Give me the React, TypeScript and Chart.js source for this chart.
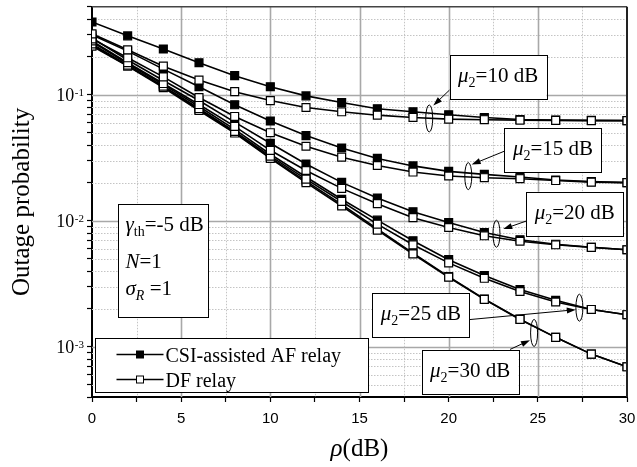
import React, { useEffect, useRef } from 'react';
import { Chart, registerables } from 'chart.js';

Chart.register(...registerables);

const SERIF = '"Liberation Serif", "Times New Roman", Times, serif';
const SANS = '"Liberation Sans", Arial, Helvetica, sans-serif';

// ---------------- data ----------------
const rho = [0, 2, 4, 6, 8, 10, 12, 14, 16, 18, 20, 22, 24, 26, 28, 30];

const af10 = [0.379, 0.294, 0.231, 0.180, 0.142, 0.116, 0.0982, 0.0869, 0.0775, 0.0734, 0.0695, 0.0662, 0.0638, 0.0630, 0.0627, 0.0624];
const df10 = [0.305, 0.228, 0.169, 0.131, 0.106, 0.0901, 0.0794, 0.0734, 0.0690, 0.0662, 0.0642, 0.0635, 0.0630, 0.0627, 0.0625, 0.0624];
const af15 = [0.299, 0.2225, 0.160, 0.116, 0.0834, 0.0621, 0.0475, 0.0379, 0.0313, 0.0273, 0.0247, 0.0234, 0.0223, 0.0211, 0.0205, 0.0201];
const df15 = [0.278, 0.197, 0.139, 0.0952, 0.0674, 0.0501, 0.0391, 0.0320, 0.0275, 0.0244, 0.0227, 0.0220, 0.0216, 0.0209, 0.0203, 0.0201];
const af20 = [0.283, 0.189, 0.130, 0.0902, 0.0608, 0.0413, 0.0283, 0.0202, 0.0152, 0.0118, 0.0097, 0.00808, 0.00708, 0.00652, 0.00618, 0.0059];
const df20 = [0.268, 0.180, 0.123, 0.0838, 0.0562, 0.0363, 0.0251, 0.0181, 0.0137, 0.0106, 0.00886, 0.00761, 0.00689, 0.00646, 0.00616, 0.0059];
const af25 = [0.2635, 0.1767, 0.1206, 0.0808, 0.0532, 0.0338, 0.0223, 0.01483, 0.01013, 0.00695, 0.00492, 0.00368, 0.00285, 0.00234, 0.00198, 0.0018];
const df25 = [0.254, 0.172, 0.1174, 0.0779, 0.0513, 0.0326, 0.02146, 0.01425, 0.00942, 0.00646, 0.00464, 0.0035, 0.00275, 0.00227, 0.00198, 0.0018];
const af30 = [0.249, 0.170, 0.1163, 0.0766, 0.0504, 0.0318, 0.0207, 0.0135, 0.00865, 0.00554, 0.00361, 0.0024, 0.00166, 0.00119, 0.000876, 0.000695];
const df30 = [0.2435, 0.1694, 0.1142, 0.0752, 0.0498, 0.0313, 0.0201, 0.01313, 0.00844, 0.00546, 0.00357, 0.00238, 0.00165, 0.00119, 0.000876, 0.000695];

const muLabels = ['10', '15', '20', '25', '30'];
const afSeries = [af10, af15, af20, af25, af30];
const dfSeries = [df10, df15, df20, df25, df30];

const xMin = 0;
const xMax = 30;
const xTickStep = 2.5;
const xLabelStep = 5;
const yMin = 4e-4;
const yMax = 0.5;
const yDecades = [1e-3, 1e-2, 1e-1];

const legendLabels = ['CSI-assisted AF relay', 'DF relay'];
const xTitle = 'ρ';
const xTitleUnit = '(dB)';
const yTitle = 'Outage probability';

// annotation anchors (data coordinates): box centre, ellipse centre, arrow from / to
const muNotes = [
  { mu: '10', box: [22.77, 0.138], ell: [18.91, 0.065], from: [20.07, 0.110], to: [19.14, 0.0823] },
  { mu: '15', box: [25.85, 0.0365], ell: [21.1, 0.02265], from: [23.12, 0.0357], to: [21.29, 0.028] },
  { mu: '20', box: [27.07, 0.0114], ell: [22.68, 0.0079], from: [24.38, 0.01], to: [23.06, 0.0086] },
  { mu: '25', box: [18.44, 0.00179], ell: [27.33, 0.002046], from: [21.15, 0.001645], to: [27.13, 0.001973] },
  { mu: '30', box: [21.2, 0.000632], ell: [24.79, 0.00129], from: [23.44, 0.000954], to: [24.56, 0.00113] },
];
const paramBoxAnchor = [1.47, 0.01355]; // top-left

// y ticks (1..9 x 10^k inside the range)
const yTickValues: number[] = [];
for (let e = -4; e <= -1; e++) {
  for (let m = 1; m <= 9; m++) {
    const v = parseFloat((m * Math.pow(10, e)).toPrecision(6));
    if (v >= yMin * 0.999 && v <= yMax * 1.001) yTickValues.push(v);
  }
}

type Seg = { t: string; it?: boolean; sz: number; dy?: number };
const segFont = (s: Seg) => `${s.it ? 'italic ' : ''}${s.sz}px ${SERIF}`;

function richWidth(ctx: CanvasRenderingContext2D, segs: Seg[]) {
  let w = 0;
  for (const s of segs) {
    ctx.font = segFont(s);
    w += ctx.measureText(s.t).width;
  }
  return w;
}

function drawRich(ctx: CanvasRenderingContext2D, segs: Seg[], x: number, y: number, align: 'left' | 'center') {
  const w = richWidth(ctx, segs);
  let cx = align === 'center' ? x - w / 2 : x;
  ctx.textAlign = 'left';
  ctx.textBaseline = 'alphabetic';
  ctx.fillStyle = '#000';
  for (const s of segs) {
    ctx.font = segFont(s);
    ctx.fillText(s.t, cx, y + (s.dy || 0));
    cx += ctx.measureText(s.t).width;
  }
}

function drawArrow(ctx: CanvasRenderingContext2D, x1: number, y1: number, x2: number, y2: number) {
  const ang = Math.atan2(y2 - y1, x2 - x1);
  const len = 9;
  const hw = 3;
  ctx.strokeStyle = '#000';
  ctx.lineWidth = 1;
  ctx.beginPath();
  ctx.moveTo(x1, y1);
  ctx.lineTo(x2 - Math.cos(ang) * len * 0.8, y2 - Math.sin(ang) * len * 0.8);
  ctx.stroke();
  ctx.fillStyle = '#000';
  ctx.beginPath();
  ctx.moveTo(x2, y2);
  ctx.lineTo(x2 - Math.cos(ang) * len - Math.sin(ang) * hw, y2 - Math.sin(ang) * len + Math.cos(ang) * hw);
  ctx.lineTo(x2 - Math.cos(ang) * len + Math.sin(ang) * hw, y2 - Math.sin(ang) * len - Math.cos(ang) * hw);
  ctx.closePath();
  ctx.fill();
}

const customPlugin = {
  id: 'customDecor',
  beforeDatasetsDraw(chart: any) {
    const { ctx, chartArea: a, scales } = chart;
    const x = scales.x;
    const y = scales.y;
    ctx.save();
    // y grid
    for (const v of yTickValues) {
      const py = Math.round(y.getPixelForValue(v)) + 0.5;
      if (py <= a.top + 1 || py >= a.bottom - 1) continue;
      const lg = Math.log10(v);
      const major = Math.abs(lg - Math.round(lg)) < 1e-6;
      ctx.beginPath();
      if (major) {
        ctx.strokeStyle = '#a8a8a8';
        ctx.lineWidth = 1.6;
        ctx.setLineDash([]);
      } else {
        ctx.strokeStyle = '#c4c4c4';
        ctx.lineWidth = 1;
        ctx.setLineDash([1.5, 1.5]);
      }
      ctx.moveTo(a.left, py);
      ctx.lineTo(a.right, py);
      ctx.stroke();
    }
    // x grid
    for (let v = xMin + xTickStep; v < xMax; v += xTickStep) {
      const px = Math.round(x.getPixelForValue(v)) + 0.5;
      const major = Math.abs(v / xLabelStep - Math.round(v / xLabelStep)) < 1e-6;
      ctx.beginPath();
      if (major) {
        ctx.strokeStyle = '#a8a8a8';
        ctx.lineWidth = 1.6;
        ctx.setLineDash([]);
      } else {
        ctx.strokeStyle = '#c4c4c4';
        ctx.lineWidth = 1;
        ctx.setLineDash([1.5, 1.5]);
      }
      ctx.moveTo(px, a.top);
      ctx.lineTo(px, a.bottom);
      ctx.stroke();
    }
    ctx.restore();
  },
  afterDatasetsDraw(chart: any) {
    const { ctx, chartArea: a, scales } = chart;
    const x = scales.x;
    const y = scales.y;
    ctx.save();
    ctx.setLineDash([]);
    // frame top / right
    ctx.strokeStyle = '#444';
    ctx.lineWidth = 1.5;
    ctx.beginPath();
    ctx.moveTo(a.left, a.top);
    ctx.lineTo(a.right, a.top);
    ctx.stroke();
    ctx.strokeStyle = '#222';
    ctx.lineWidth = 2;
    ctx.beginPath();
    ctx.moveTo(a.right, a.top);
    ctx.lineTo(a.right, a.bottom);
    ctx.stroke();

    // mu annotations
    const bw = 97;
    const bh = 44;
    for (const n of muNotes) {
      const ex = x.getPixelForValue(n.ell[0]);
      const ey = y.getPixelForValue(n.ell[1]);
      ctx.strokeStyle = '#000';
      ctx.lineWidth = 1;
      ctx.beginPath();
      ctx.ellipse(ex, ey, 3.5, 13.5, 0, 0, Math.PI * 2);
      ctx.stroke();
      drawArrow(ctx, x.getPixelForValue(n.from[0]), y.getPixelForValue(n.from[1]), x.getPixelForValue(n.to[0]), y.getPixelForValue(n.to[1]));
      const cx = x.getPixelForValue(n.box[0]);
      const cy = y.getPixelForValue(n.box[1]);
      ctx.fillStyle = '#fff';
      ctx.fillRect(cx - bw / 2, cy - bh / 2, bw, bh);
      ctx.strokeStyle = '#000';
      ctx.lineWidth = 1;
      ctx.strokeRect(Math.round(cx - bw / 2) + 0.5, Math.round(cy - bh / 2) + 0.5, bw, bh);
      drawRich(ctx, [
        { t: 'μ', it: true, sz: 21 },
        { t: '2', sz: 14, dy: 5 },
        { t: '=' + n.mu + ' dB', sz: 21 },
      ], cx, cy + 5, 'center');
    }

    // parameter box
    {
      const px = Math.round(x.getPixelForValue(paramBoxAnchor[0])) + 0.5;
      const py = Math.round(y.getPixelForValue(paramBoxAnchor[1])) + 0.5;
      const w = 90;
      const h = 113;
      ctx.fillStyle = '#fff';
      ctx.fillRect(px, py, w, h);
      ctx.strokeStyle = '#000';
      ctx.lineWidth = 1;
      ctx.strokeRect(px, py, w, h);
      const tx = px + 7;
      drawRich(ctx, [
        { t: 'γ', it: true, sz: 21 },
        { t: 'th', sz: 14, dy: 5 },
        { t: '=-5 dB', sz: 21 },
      ], tx, py + 26, 'left');
      drawRich(ctx, [
        { t: 'N', it: true, sz: 21 },
        { t: '=1', sz: 21 },
      ], tx, py + 63, 'left');
      drawRich(ctx, [
        { t: 'σ', it: true, sz: 21 },
        { t: 'R', it: true, sz: 14, dy: 5 },
        { t: ' =1', sz: 21 },
      ], tx, py + 90, 'left');
    }

    // legend
    {
      const lx = a.left + 3.5;
      const lw = 273;
      const lh = 54;
      const ly = a.bottom - 4.5 - lh;
      ctx.fillStyle = '#fff';
      ctx.fillRect(lx, ly, lw, lh);
      ctx.strokeStyle = '#000';
      ctx.lineWidth = 1;
      ctx.strokeRect(lx, ly, lw, lh);
      const rows = [ly + 15, ly + 40];
      legendLabels.forEach((lab, i) => {
        const ry = Math.round(rows[i]) + 0.5;
        ctx.strokeStyle = '#000';
        ctx.lineWidth = 1.5;
        ctx.beginPath();
        ctx.moveTo(lx + 21, ry);
        ctx.lineTo(lx + 68, ry);
        ctx.stroke();
        const mx = lx + 44.5;
        ctx.fillStyle = i === 0 ? '#000' : '#fff';
        ctx.fillRect(mx - 3.5, ry - 3.5, 7, 7);
        ctx.lineWidth = 1;
        ctx.strokeRect(mx - 3.5, ry - 3.5, 7, 7);
        drawRich(ctx, [{ t: lab, sz: 20 }], lx + 70, ry + 7, 'left');
      });
    }

    // y tick labels (10^k)
    for (const d of yDecades) {
      const py = y.getPixelForValue(d);
      const e = Math.round(Math.log10(d));
      ctx.fillStyle = '#000';
      ctx.textBaseline = 'alphabetic';
      ctx.font = `11px ${SERIF}`;
      const sup = String(e);
      const ws = ctx.measureText(sup).width;
      const right = a.left - 8;
      ctx.textAlign = 'left';
      ctx.fillText(sup, right - ws, py + 1);
      ctx.font = `18px ${SERIF}`;
      ctx.textAlign = 'right';
      ctx.fillText('10', right - ws - 0.5, py + 6.5);
    }

    // axis titles
    drawRich(ctx, [
      { t: xTitle, it: true, sz: 25 },
      { t: xTitleUnit, sz: 25 },
    ], (a.left + a.right) / 2, 456, 'center');

    ctx.save();
    ctx.translate(29, (a.top + a.bottom) / 2);
    ctx.rotate(-Math.PI / 2);
    ctx.font = `25px ${SERIF}`;
    ctx.fillStyle = '#000';
    ctx.textAlign = 'center';
    ctx.textBaseline = 'alphabetic';
    ctx.fillText(yTitle, 0, 0);
    ctx.restore();

    ctx.restore();
  },
};

export default function App() {
  const ref = useRef<HTMLCanvasElement | null>(null);
  useEffect(() => {
    const canvas = ref.current;
    if (!canvas) return;
    const datasets: any[] = [];
    // DF datasets first so they are drawn on top of the AF ones
    dfSeries.forEach((arr, i) => {
      datasets.push({
        label: `DF relay μ2=${muLabels[i]} dB`,
        data: rho.map((xv, j) => ({ x: xv, y: arr[j] })),
        borderColor: '#000',
        backgroundColor: '#fff',
        pointBackgroundColor: '#fff',
        pointBorderColor: '#000',
        pointStyle: 'rect',
        pointRadius: 5.6,
        pointBorderWidth: 1.2,
        borderWidth: 1.6,
        tension: 0,
        clip: 0,
      });
    });
    afSeries.forEach((arr, i) => {
      datasets.push({
        label: `CSI-assisted AF relay μ2=${muLabels[i]} dB`,
        data: rho.map((xv, j) => ({ x: xv, y: arr[j] })),
        borderColor: '#000',
        backgroundColor: '#000',
        pointBackgroundColor: '#000',
        pointBorderColor: '#000',
        pointStyle: 'rect',
        pointRadius: 5.6,
        pointBorderWidth: 1.2,
        borderWidth: 1.6,
        tension: 0,
        clip: 0,
      });
    });

    const chart = new Chart(canvas, {
      type: 'line',
      data: { datasets },
      options: {
        animation: false,
        responsive: false,
        layout: { padding: { top: 4, right: 10, left: 0, bottom: 0 } },
        plugins: { legend: { display: false }, tooltip: { enabled: false } },
        scales: {
          x: {
            type: 'linear',
            min: xMin,
            max: xMax,
            ticks: {
              stepSize: xTickStep,
              autoSkip: false,
              maxRotation: 0,
              padding: 8,
              color: '#000',
              font: { family: SANS, size: 15 },
              callback: (v: any) => (Math.abs(v / xLabelStep - Math.round(v / xLabelStep)) < 1e-6 ? String(v) : ''),
            },
            grid: { drawOnChartArea: false, drawTicks: true, tickLength: 5, tickColor: '#000', tickWidth: 1.2 },
            border: { display: true, color: '#000', width: 2 },
            afterFit: (s: any) => {
              s.height = 70;
              s.paddingLeft = 0;
              s.paddingRight = 0;
            },
          },
          y: {
            type: 'logarithmic',
            min: yMin,
            max: yMax,
            afterBuildTicks: (s: any) => {
              s.ticks = yTickValues.map((v) => ({ value: v }));
            },
            ticks: { autoSkip: false, padding: 0, callback: () => '' },
            grid: { drawOnChartArea: false, drawTicks: true, tickLength: 5, tickColor: '#000', tickWidth: 1.2 },
            border: { display: true, color: '#000', width: 2 },
            afterFit: (s: any) => {
              s.width = 92;
              s.paddingTop = 0;
              s.paddingBottom = 0;
            },
          },
        },
      } as any,
      plugins: [customPlugin],
    });
    return () => chart.destroy();
  }, []);

  return (
    <div style={{ position: 'fixed', left: 0, top: 0, width: 637, height: 467, background: '#fff' }}>
      <canvas ref={ref} width={637} height={467} style={{ display: 'block', width: 637, height: 467 }} />
    </div>
  );
}
